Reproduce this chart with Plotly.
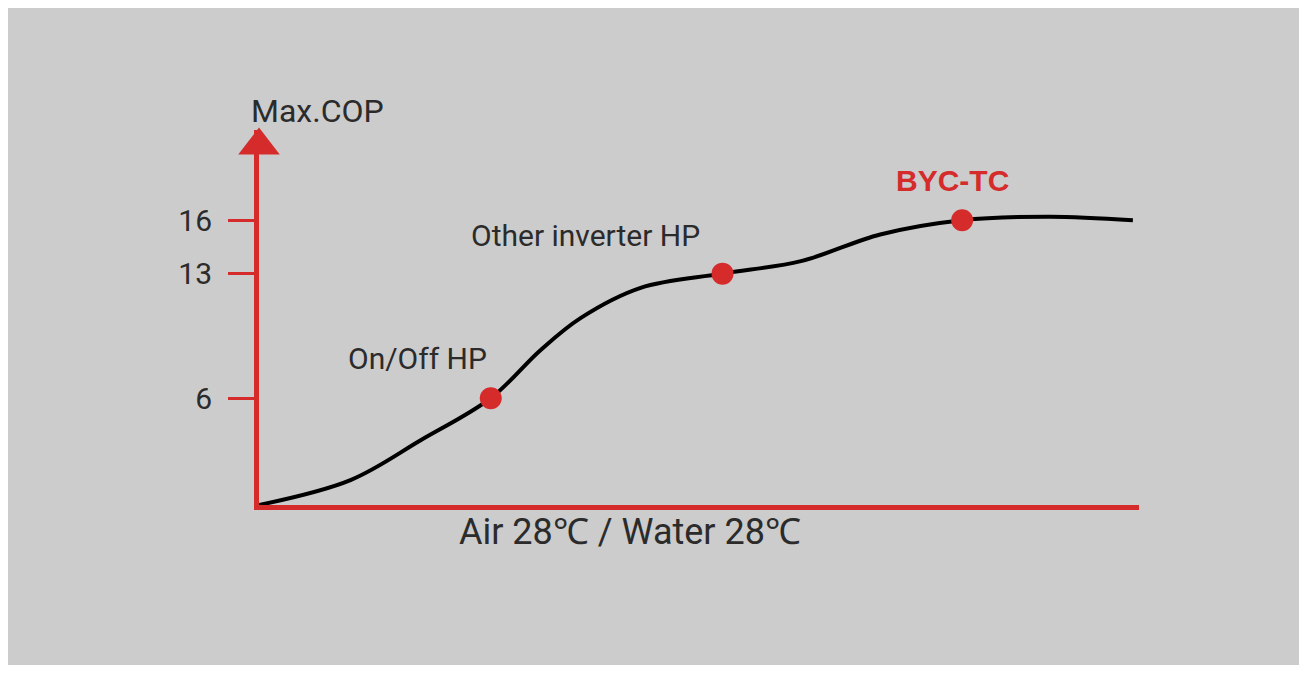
import plotly.graph_objects as go

# curve samples (x in 0..100 along the axis, y in COP)
curve_x = [0, 10.5, 18.6, 26.6, 32.3, 36.9, 43.8, 53.2, 62.2, 71.3, 80.7, 90.8, 100.3]
curve_y = [0, 1.4, 3.65, 6, 8.7, 10.5, 12.2, 13, 13.7, 15.2, 16, 16.2, 16]

point_x = [26.6, 53.2, 80.7]
point_y = [6, 13, 16]

tick_vals = [6, 13, 16]

red = '#d52b2b'
txt = '#2b2b2b'
font = 'Roboto'

fig = go.Figure()

fig.add_trace(go.Scatter(x=curve_x, y=curve_y, mode='lines',
                         line=dict(color='black', width=4, shape='spline', smoothing=1.0),
                         hoverinfo='skip'))
fig.add_trace(go.Scatter(x=point_x, y=point_y, mode='markers',
                         marker=dict(color=red, size=22), hoverinfo='skip'))
# arrow head on the y axis
fig.add_trace(go.Scatter(x=[0], y=[20.2], mode='markers', cliponaxis=False,
                         marker=dict(symbol='triangle-up', color=red, size=36), hoverinfo='skip'))

fig.update_xaxes(range=[0, 101], showgrid=False, zeroline=False, showticklabels=False,
                 showline=True, linecolor=red, linewidth=5)
fig.update_yaxes(range=[0, 21.07], showgrid=False, zeroline=False,
                 showline=True, linecolor=red, linewidth=5,
                 tickvals=tick_vals, ticktext=[str(v) for v in tick_vals],
                 ticks='outside', ticklen=26, tickwidth=3, tickcolor=red,
                 ticklabelstandoff=10,
                 tickfont=dict(size=30, color=txt, family=font))

W, H = 880, 375  # plot area size in px


def px(x):
    return (x - 258) / W


def py(y):
    return (505 - y) / H


annotations = [
    dict(x=26.6, y=6, text='On/Off HP', xshift=-73, yshift=40),
    dict(x=53.2, y=13, text='Other inverter HP', xshift=-137, yshift=38),
]
for a in annotations:
    a.update(xref='x', yref='y', showarrow=False, font=dict(size=30, color=txt, family=font))
annotations.append(dict(x=80.7, y=16, xref='x', yref='y', text='<b>BYC-TC</b>', showarrow=False,
                        xshift=-10, yshift=40, font=dict(size=30, color=red, family='Liberation Sans')))
annotations.append(dict(x=px(248), y=py(90), xref='paper', yref='paper', text='Max.COP',
                        showarrow=False, font=dict(size=32, color=txt, family=font)))
annotations.append(dict(x=px(456), y=py(555), xref='paper', yref='paper',
                        text='Air 28℃ / Water 28℃', showarrow=False,
                        font=dict(size=36, color=txt, family=font)))

fig.update_layout(
    width=1307, height=675,
    margin=dict(l=251, r=176, t=122, b=178),
    paper_bgcolor='white', plot_bgcolor='rgba(0,0,0,0)',
    showlegend=False, annotations=annotations,
    shapes=[dict(type='rect', xref='paper', yref='paper', layer='below',
                 x0=px(3), x1=px(1302), y0=py(665), y1=py(3),
                 fillcolor='#cccccc', line=dict(width=0))],
)

fig.write_html('out.html')
